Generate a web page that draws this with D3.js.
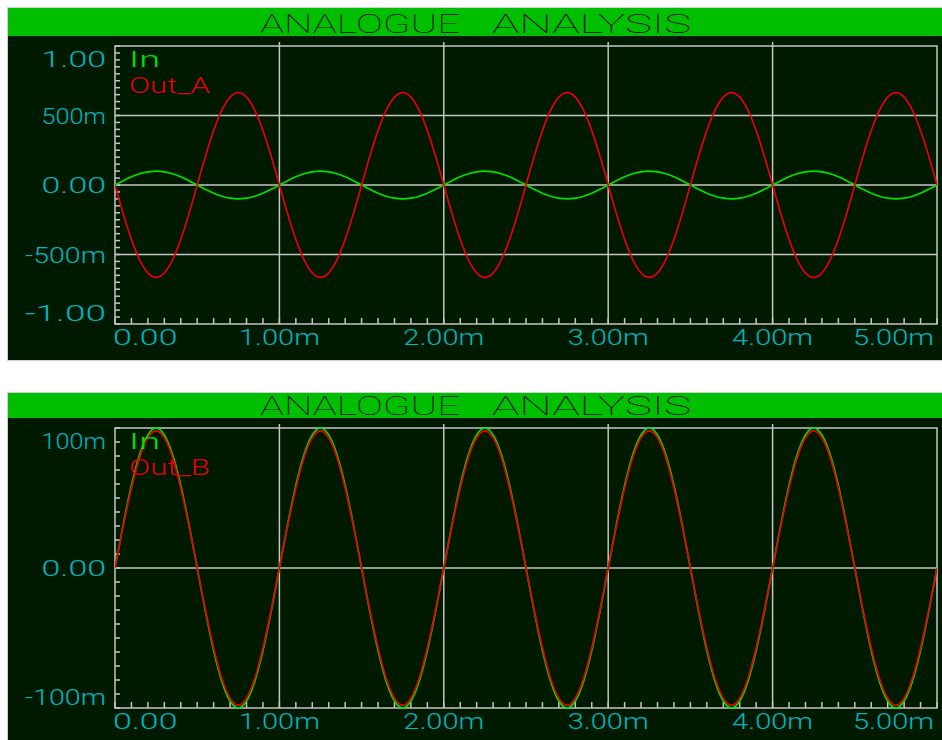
<!DOCTYPE html>
<html>
<head>
<meta charset="utf-8">
<script src="https://cdn.jsdelivr.net/npm/d3@7"></script>
<style>
  html, body { margin: 0; padding: 0; background: #ffffff; }
  svg { display: block; }
</style>
</head>
<body>
<svg id="chart" width="942" height="740"></svg>
<script>
// Transient analysis samples, time in milliseconds (0.05 ms step)
const timeMs = [
  0, 0.05, 0.1, 0.15, 0.2, 0.25, 0.3, 0.35, 0.4, 0.45, 0.5, 0.55, 0.6, 0.65, 0.7, 0.75, 0.8, 0.85, 0.9, 0.95,
  1, 1.05, 1.1, 1.15, 1.2, 1.25, 1.3, 1.35, 1.4, 1.45, 1.5, 1.55, 1.6, 1.65, 1.7, 1.75, 1.8, 1.85, 1.9, 1.95,
  2, 2.05, 2.1, 2.15, 2.2, 2.25, 2.3, 2.35, 2.4, 2.45, 2.5, 2.55, 2.6, 2.65, 2.7, 2.75, 2.8, 2.85, 2.9, 2.95,
  3, 3.05, 3.1, 3.15, 3.2, 3.25, 3.3, 3.35, 3.4, 3.45, 3.5, 3.55, 3.6, 3.65, 3.7, 3.75, 3.8, 3.85, 3.9, 3.95,
  4, 4.05, 4.1, 4.15, 4.2, 4.25, 4.3, 4.35, 4.4, 4.45, 4.5, 4.55, 4.6, 4.65, 4.7, 4.75, 4.8, 4.85, 4.9, 4.95,
  5
];

// Input signal (V)
const inValues = [
  0, 0.031, 0.059, 0.081, 0.095, 0.1, 0.095, 0.081, 0.059, 0.031, 0, -0.031, -0.059, -0.081, -0.095, -0.1, -0.095, -0.081, -0.059, -0.031,
  0, 0.031, 0.059, 0.081, 0.095, 0.1, 0.095, 0.081, 0.059, 0.031, 0, -0.031, -0.059, -0.081, -0.095, -0.1, -0.095, -0.081, -0.059, -0.031,
  0, 0.031, 0.059, 0.081, 0.095, 0.1, 0.095, 0.081, 0.059, 0.031, 0, -0.031, -0.059, -0.081, -0.095, -0.1, -0.095, -0.081, -0.059, -0.031,
  0, 0.031, 0.059, 0.081, 0.095, 0.1, 0.095, 0.081, 0.059, 0.031, 0, -0.031, -0.059, -0.081, -0.095, -0.1, -0.095, -0.081, -0.059, -0.031,
  0, 0.031, 0.059, 0.081, 0.095, 0.1, 0.095, 0.081, 0.059, 0.031, 0, -0.031, -0.059, -0.081, -0.095, -0.1, -0.095, -0.081, -0.059, -0.031,
  0
];

// Inverting stage output (V)
const outAValues = [
  0, -0.206, -0.391, -0.538, -0.632, -0.665, -0.632, -0.538, -0.391, -0.206, 0, 0.206, 0.391, 0.538, 0.632, 0.665, 0.632, 0.538, 0.391, 0.206,
  0, -0.206, -0.391, -0.538, -0.632, -0.665, -0.632, -0.538, -0.391, -0.206, 0, 0.206, 0.391, 0.538, 0.632, 0.665, 0.632, 0.538, 0.391, 0.206,
  0, -0.206, -0.391, -0.538, -0.632, -0.665, -0.632, -0.538, -0.391, -0.206, 0, 0.206, 0.391, 0.538, 0.632, 0.665, 0.632, 0.538, 0.391, 0.206,
  0, -0.206, -0.391, -0.538, -0.632, -0.665, -0.632, -0.538, -0.391, -0.206, 0, 0.206, 0.391, 0.538, 0.632, 0.665, 0.632, 0.538, 0.391, 0.206,
  0, -0.206, -0.391, -0.538, -0.632, -0.665, -0.632, -0.538, -0.391, -0.206, 0, 0.206, 0.391, 0.538, 0.632, 0.665, 0.632, 0.538, 0.391, 0.206,
  0
];

// Follower stage output (V)
const outBValues = [
  0, 0.030, 0.057, 0.079, 0.093, 0.098, 0.093, 0.079, 0.057, 0.030, 0, -0.030, -0.057, -0.079, -0.093, -0.098, -0.093, -0.079, -0.057, -0.030,
  0, 0.030, 0.057, 0.079, 0.093, 0.098, 0.093, 0.079, 0.057, 0.030, 0, -0.030, -0.057, -0.079, -0.093, -0.098, -0.093, -0.079, -0.057, -0.030,
  0, 0.030, 0.057, 0.079, 0.093, 0.098, 0.093, 0.079, 0.057, 0.030, 0, -0.030, -0.057, -0.079, -0.093, -0.098, -0.093, -0.079, -0.057, -0.030,
  0, 0.030, 0.057, 0.079, 0.093, 0.098, 0.093, 0.079, 0.057, 0.030, 0, -0.030, -0.057, -0.079, -0.093, -0.098, -0.093, -0.079, -0.057, -0.030,
  0, 0.030, 0.057, 0.079, 0.093, 0.098, 0.093, 0.079, 0.057, 0.030, 0, -0.030, -0.057, -0.079, -0.093, -0.098, -0.093, -0.079, -0.057, -0.030,
  0
];

const xTicks = [0, 1, 2, 3, 4, 5];
const xTickLabels = ["0.00", "1.00m", "2.00m", "3.00m", "4.00m", "5.00m"];

const topYTicks = [1, 0.5, 0, -0.5, -1];
const topYTickLabels = ["1.00", "500m", "0.00", "-500m", "-1.00"];
const topGridValues = [0.5, 0, -0.5];

const bottomYTicks = [0.1, 0, -0.1];
const bottomYTickLabels = ["100m", "0.00", "-100m"];
const bottomGridValues = [0];

const titleWords = ["ANALOGUE", "ANALYSIS"];

// ---- drawing ----
const colors = {
  background: "#001a00",
  bar: "#00bf00",
  border: "#cfcfcf",
  grid: "#c4c4c4",
  label: "#00b4c3",
  input: "#00e000",
  output: "#e80000",
  title: "#000000"
};
const FONT = "Roboto, 'Liberation Sans', sans-serif";
const LABEL_WEIGHT = 300;
const CHAR_W = 16.6;

const svg = d3.select("#chart");
const x = d3.scaleLinear().domain([0, 5]).range([115, 937]);

function fitText(sel, str, perChar) {
  sel.text(str)
     .attr("font-family", FONT)
     .attr("font-weight", LABEL_WEIGHT)
     .attr("font-size", 22)
     .attr("textLength", str.length * perChar - 2)
     .attr("lengthAdjust", "spacingAndGlyphs");
}

function drawPanel(cfg, idx) {
  const g = svg.append("g");

  // panel body and title bar
  g.append("rect")
    .attr("x", 7.5).attr("y", cfg.top + 0.5)
    .attr("width", 940).attr("height", cfg.bottom - cfg.top)
    .attr("fill", colors.background)
    .attr("stroke", colors.border).attr("stroke-width", 1);
  g.append("rect")
    .attr("x", 8).attr("y", cfg.top + 1)
    .attr("width", 934).attr("height", cfg.barBottom - cfg.top - 1)
    .attr("fill", colors.bar);

  // title: two words laid out on a fixed-pitch grid
  const title = g.append("text")
    .attr("y", cfg.titleBaseline)
    .attr("font-family", FONT).attr("font-weight", 100).attr("font-size", 26)
    .attr("fill", colors.title);
  title.append("tspan")
    .attr("x", 260).attr("textLength", 200).attr("lengthAdjust", "spacingAndGlyphs")
    .text(titleWords[0]);
  title.append("tspan").text(" ");
  title.append("tspan")
    .attr("x", 492).attr("textLength", 199).attr("lengthAdjust", "spacingAndGlyphs")
    .text(titleWords[1]);

  const y = d3.scaleLinear().domain(cfg.yDomain).range([cfg.plotBottom, cfg.plotTop]);
  const [x0, x1] = x.range();

  // grid
  g.append("g").selectAll("line")
    .data(cfg.grid).join("line")
    .attr("x1", x0).attr("x2", x1)
    .attr("y1", d => y(d)).attr("y2", d => y(d))
    .attr("stroke", colors.grid).attr("stroke-width", 1.5);
  g.append("g").selectAll("line")
    .data(xTicks.slice(1, -1)).join("line")
    .attr("x1", d => x(d)).attr("x2", d => x(d))
    .attr("y1", cfg.plotTop - 4).attr("y2", cfg.plotBottom)
    .attr("stroke", colors.grid).attr("stroke-width", 1.5);

  // frame
  g.append("rect")
    .attr("x", x0).attr("y", cfg.plotTop)
    .attr("width", x1 - x0).attr("height", cfg.plotBottom - cfg.plotTop)
    .attr("fill", "none").attr("stroke", colors.grid).attr("stroke-width", 1.5);

  // minor ticks
  g.append("g").selectAll("line")
    .data(y.ticks(cfg.minorCount)).join("line")
    .attr("x1", x0).attr("x2", x0 + 5)
    .attr("y1", d => y(d)).attr("y2", d => y(d))
    .attr("stroke", colors.grid).attr("stroke-width", 1.5);
  g.append("g").selectAll("line")
    .data(x.ticks(50)).join("line")
    .attr("x1", d => x(d)).attr("x2", d => x(d))
    .attr("y1", cfg.plotBottom).attr("y2", cfg.plotBottom - 6)
    .attr("stroke", colors.grid).attr("stroke-width", 1.5);

  // y labels (end labels kept inside the frame height)
  const nY = cfg.yTicks.length;
  cfg.yTicks.forEach((v, i) => {
    let base = y(v) + 8.3;
    if (i === 0) base = cfg.plotTop + 21;
    if (i === nY - 1) base = cfg.plotBottom - 3;
    const t = g.append("text")
      .attr("x", 106).attr("y", base)
      .attr("text-anchor", "end")
      .attr("fill", colors.label);
    fitText(t, cfg.yLabels[i], CHAR_W);
  });

  // x labels
  xTicks.forEach((v, i) => {
    const anchor = i === 0 ? "start" : (i === xTicks.length - 1 ? "end" : "middle");
    const px = i === 0 ? x(v) - 2 : (i === xTicks.length - 1 ? x(v) - 3 : x(v));
    const t = g.append("text")
      .attr("x", px).attr("y", cfg.plotBottom + 21)
      .attr("text-anchor", anchor)
      .attr("fill", colors.label);
    fitText(t, xTickLabels[i], CHAR_W);
  });

  // traces
  const clipId = "plot-clip-" + idx;
  g.append("clipPath").attr("id", clipId)
    .append("rect")
    .attr("x", x0).attr("y", cfg.plotTop - 1)
    .attr("width", x1 - x0).attr("height", cfg.plotBottom - cfg.plotTop + 2);

  const line = d3.line()
    .x((d, i) => x(timeMs[i]))
    .y(d => y(d))
    .curve(d3.curveMonotoneX);

  const traces = g.append("g").attr("clip-path", `url(#${clipId})`);
  cfg.series.forEach(s => {
    traces.append("path")
      .attr("d", line(s.values))
      .attr("fill", "none")
      .attr("stroke", s.color)
      .attr("stroke-width", 1.7)
      .attr("stroke-linejoin", "round");
  });

  // legend
  cfg.series.forEach((s, i) => {
    const t = g.append("text")
      .attr("x", 129).attr("y", cfg.plotTop + 21 + i * 25.5)
      .attr("fill", s.color);
    fitText(t, s.name, CHAR_W);
  });
}

drawPanel({
  top: 7, bottom: 360, barBottom: 36, titleBaseline: 33,
  plotTop: 46, plotBottom: 324,
  yDomain: [-1, 1], yTicks: topYTicks, yLabels: topYTickLabels,
  grid: topGridValues, minorCount: 40,
  series: [
    { name: "In", values: inValues, color: colors.input },
    { name: "Out_A", values: outAValues, color: colors.output }
  ]
}, 0);

drawPanel({
  top: 392, bottom: 745, barBottom: 418, titleBaseline: 415,
  plotTop: 428, plotBottom: 708,
  yDomain: [-0.1, 0.1], yTicks: bottomYTicks, yLabels: bottomYTickLabels,
  grid: bottomGridValues, minorCount: 20,
  series: [
    { name: "In", values: inValues, color: colors.input },
    { name: "Out_B", values: outBValues, color: colors.output }
  ]
}, 1);
</script>
</body>
</html>
